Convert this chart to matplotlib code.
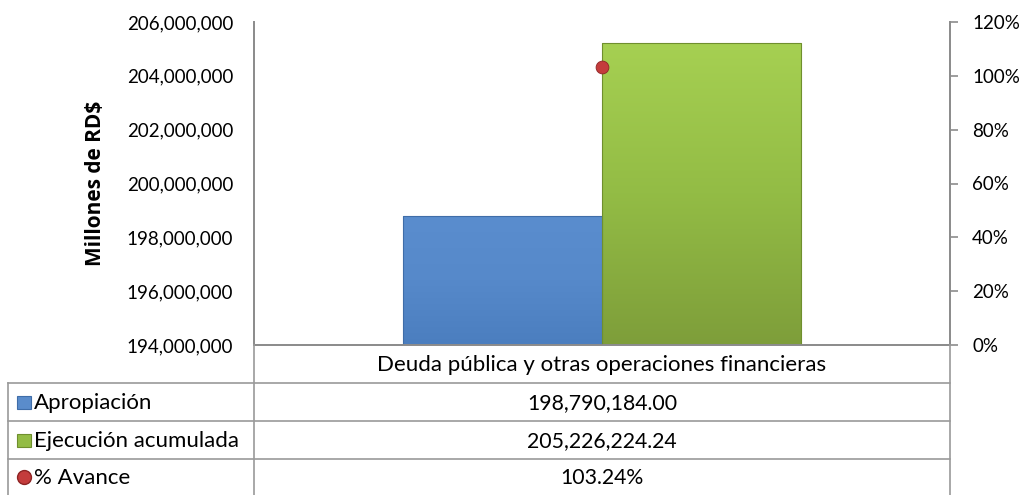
import matplotlib
matplotlib.use('Agg')
import matplotlib.pyplot as plt
import numpy as np
from matplotlib.patches import Rectangle
from matplotlib.lines import Line2D
from matplotlib.colors import LinearSegmentedColormap

plt.rcParams['font.family'] = ['Lato', 'DejaVu Sans']

category = "Deuda pública y otras operaciones financieras"
series_names = ["Apropiación", "Ejecución acumulada", "% Avance"]
apropiacion = [198790184.00]
ejecucion = [205226224.24]
avance_pct = [103.24]
y_ticks = [194e6, 196e6, 198e6, 200e6, 202e6, 204e6, 206e6]
pct_ticks = [0, 20, 40, 60, 80, 100, 120]

W, H = 1021, 495
fig = plt.figure(figsize=(W / 100, H / 100), dpi=100)


def fx(px):
    return px / W


def fy(py):
    return 1 - py / H


ax = fig.add_axes([fx(254), fy(345), fx(950) - fx(254), fy(22) - fy(345)])
ax2 = ax.twinx()

blue_cmap = LinearSegmentedColormap.from_list('b', ['#4B7EBF', '#5689CA', '#5A8DCE'])
green_cmap = LinearSegmentedColormap.from_list('g', ['#7E9E3A', '#93BC45', '#A6D052'])

bw = 0.286
series = [(apropiacion, -bw / 2, blue_cmap, '#3F6DA8'),
          (ejecucion, bw / 2, green_cmap, '#6F8F2E')]
for vals, off, cmap, ec in series:
    bars = ax.bar([0 + off], vals, width=bw, bottom=0, color='none',
                  edgecolor=ec, linewidth=0.8, zorder=3)
    for b in bars:
        x0 = b.get_x()
        h = b.get_height()
        grad = np.linspace(0, 1, 256).reshape(-1, 1)
        im = ax.imshow(grad, cmap=cmap, origin='lower', aspect='auto',
                       extent=[x0, x0 + bw, y_ticks[0], h], zorder=2)
        im.set_clip_path(b)

TICK_FS = 13.5
NUM_FS = 15.3
TXT_FS = 16

ax.set_xlim(-0.5, 0.5)
ax.set_ylim(y_ticks[0], y_ticks[-1])
ax.set_yticks(y_ticks)
ax.set_yticklabels([f"{int(v):,}" for v in y_ticks], fontsize=TICK_FS)
ax.set_xticks([])
ax.tick_params(axis='y', length=0, pad=15)
for s in ['top']:
    ax.spines[s].set_visible(False)
    ax2.spines[s].set_visible(False)
for s in ['left', 'bottom', 'right']:
    ax.spines[s].set_color('#8C8C8C')
    ax.spines[s].set_linewidth(1.3)
    ax2.spines[s].set_color('#8C8C8C')
    ax2.spines[s].set_linewidth(1.3)

ax2.set_ylim(pct_ticks[0] / 100, pct_ticks[-1] / 100)
ax2.set_yticks([p / 100 for p in pct_ticks])
ax2.set_yticklabels([f"{p}%" for p in pct_ticks], fontsize=TICK_FS)
ax2.tick_params(axis='y', length=6, color='#8C8C8C', width=1.2, pad=10, direction='out')
ax2.scatter([0], [avance_pct[0] / 100], s=85, color='#C43C3C', edgecolors='#8E2424',
            linewidths=0.6, zorder=5, clip_on=False)

fig.text(fx(95), fy(183), "Millones de RD$", rotation=90, fontsize=15,
         fontweight='bold', family=['Open Sans', 'DejaVu Sans'],
         ha='center', va='center')

# data table
lc = '#9A9A9A'
lw = 1.2


def hline(y, x0, x1):
    fig.add_artist(Line2D([fx(x0), fx(x1)], [fy(y), fy(y)], color=lc, lw=lw))


def vline(x, y0, y1):
    fig.add_artist(Line2D([fx(x), fx(x)], [fy(y0), fy(y1)], color=lc, lw=lw))


row_y = [383, 421, 459]
for y in row_y:
    hline(y, 8, 950)
vline(254, 345, 495)
vline(950, 345, 495)
vline(8, 383, 495)

fig.text(fx(602), fy(365), category, fontsize=TXT_FS, ha='center', va='center')
values_txt = [f"{apropiacion[0]:,.2f}", f"{ejecucion[0]:,.2f}", f"{avance_pct[0]:.2f}%"]
centers = [403, 441, 478]
for name, val, cy in zip(series_names, values_txt, centers):
    fig.text(fx(602), fy(cy), val, fontsize=NUM_FS, ha='center', va='center')
    fig.text(fx(34), fy(cy), name, fontsize=TXT_FS, ha='left', va='center')

# legend keys
fig.add_artist(Rectangle((fx(17), fy(409)), fx(31) - fx(17), fy(396) - fy(409),
                         facecolor='#5A8CCB', edgecolor='#3F6DA8', lw=0.8))
fig.add_artist(Rectangle((fx(17), fy(447)), fx(31) - fx(17), fy(434) - fy(447),
                         facecolor='#93BC45', edgecolor='#6F8F2E', lw=0.8))
fig.add_artist(Line2D([fx(24)], [fy(477)], marker='o', markersize=10,
                      markerfacecolor='#C43C3C', markeredgecolor='#8E2424', lw=0))

fig.savefig('out.png', dpi=100)
